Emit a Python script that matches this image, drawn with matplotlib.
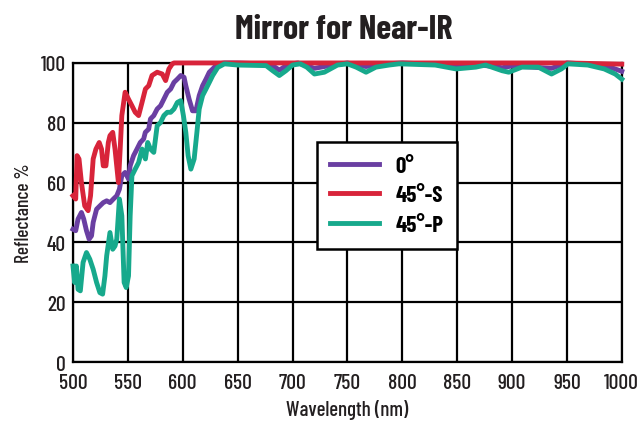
import matplotlib.pyplot as plt

# wavelength (nm) / reflectance (%)
wl_0 = [500, 502.5, 504.6, 507.7, 509.8, 512.3, 514.7, 516.9, 518.4, 521.5, 524.5, 527.6,
        530.7, 533.7, 536.8, 539.9, 542.3, 544.5, 547.5, 550.6, 552.1, 555.2, 558.3, 561.3,
        564.4, 565.9, 569, 570.6, 573.6, 576.7, 579.8, 582.8, 585.9, 589, 592, 595.1, 598.2,
        601.2, 602.8, 605.8, 608.9, 612, 615, 618.1, 621.2, 624.2, 627.3, 631.9, 638,
        650, 680, 688, 696, 705, 720, 735, 750, 767, 780, 800, 850, 870, 891, 900, 936,
        950, 970, 990, 1000]
r_0 = [44.4, 43.9, 47.8, 50, 47.8, 43.9, 41.1, 42.2, 46.7, 51.1, 52.2, 53.3,
       53.9, 53.3, 54.5, 55.6, 57.8, 62.3, 63.4, 61.2, 65.6, 69, 71.2, 73.4,
       74.6, 76.8, 77.9, 81.3, 82.4, 84.6, 85.7, 87.9, 90.2, 91.3, 93.5, 94.6, 95.8,
       95.2, 92.4, 87.9, 84, 84, 89.1, 92.4, 94.6, 96.9, 98, 99.7, 100,
       100, 99.6, 97.6, 99.5, 100, 98.2, 99.2, 100, 98.8, 99.6, 100, 99.2, 99.4, 98.4, 99, 98.2,
       100, 99.6, 98.5, 97.2]

wl_45s = [500, 502.5, 503.7, 505.5, 507.7, 510.7, 513.8, 516, 518.4, 520.9, 523.9, 526,
          527.6, 530, 532.2, 533.7, 536.2, 538.3, 541.4, 543, 544.5, 547.5, 550.6, 553.7,
          556.7, 559.8, 562.9, 566, 569, 572, 576.7, 581.3, 584.4, 587.4, 590.5, 592,
          650, 700, 750, 800, 850, 900, 950, 1000]
r_45s = [55.6, 54.5, 69, 67.9, 60, 52.2, 50.6, 55.6, 67.9, 71.2, 73.4, 71.2,
         65.6, 65.6, 73.4, 75.7, 76.8, 71.2, 60, 71.2, 82.4, 90.2, 87.9, 85.7,
         83.5, 82.4, 86.8, 91.3, 92.4, 95.8, 96.9, 96.3, 94.1, 98, 99.7, 100,
         100, 100, 100, 100, 100, 100, 100, 99.6]

wl_45p = [500, 501.5, 503.1, 504.6, 506.7, 509.2, 512.3, 515.3, 518.4, 521.5, 524.5, 527,
          529.1, 530.7, 533.7, 536.2, 538.3, 539.9, 542.3, 544.5, 546.6, 548.5, 550.6, 552.1,
          553.7, 556.7, 559.8, 562.9, 566, 568.1, 570.6, 573.6, 576.7, 579.8, 582.8, 585.9,
          589, 592, 595.1, 598.2, 600.6, 602.8, 604.9, 607.4, 610.4, 612.9, 615, 618.1,
          621.2, 624.2, 627.3, 631.9, 638,
          650, 676, 682, 688, 694, 700, 707, 713, 720, 729, 741, 750, 758, 767, 776, 788,
          797, 830, 849, 867, 876, 891, 897, 909, 924, 936, 945, 951, 969, 984, 994, 1000]
r_45p = [32.1, 26.6, 32.1, 24.3, 23.8, 33.3, 36.6, 34.4, 31, 26.6, 23.2, 22.7,
         28.8, 35.5, 43.3, 37.7, 38.8, 41.1, 54.5, 48.9, 26.6, 24.9, 28.8, 48.9,
         62.3, 64.5, 66.7, 71.2, 67.9, 73.4, 71.2, 70.1, 79, 80.1, 82.4, 83.5,
         83.5, 84.6, 86.8, 87.4, 82.4, 76.8, 69, 64.5, 67.9, 76.8, 84.6, 89.1,
         91.3, 93.5, 95.8, 98.5, 99.7,
         99.3, 99.1, 97.4, 95.8, 97.4, 99.3, 99.7, 98.6, 96.3, 96.9, 99.3, 99.7, 98.6, 96.9, 98.6, 99.3,
         99.7, 99.3, 98, 98.6, 99.3, 97.4, 96.9, 98.6, 98.6, 96.3, 98, 99.7, 99.3, 98, 96.3, 94.6]

x_ticks = [500, 550, 600, 650, 700, 750, 800, 850, 900, 950, 1000]
y_ticks = [0, 20, 40, 60, 80, 100]

purple = "#6a3fa2"
red = "#d8243a"
teal = "#17a98c"
ink = "#231f20"

cond = ["Barlow Condensed", "DejaVu Sans"]

fig = plt.figure(figsize=(6.43, 4.35), dpi=100)
ax = fig.add_axes([0.1135, 0.1655, 0.8535, 0.6875])

lw = 3.5
ax.plot(wl_0, r_0, color=purple, lw=lw, label="0°", clip_on=False, zorder=3)
ax.plot(wl_45s, r_45s, color=red, lw=lw, label="45°-S", clip_on=False, zorder=4)
ax.plot(wl_45p, r_45p, color=teal, lw=lw, label="45°-P", clip_on=False, zorder=5)

ax.set_xlim(500, 1000)
ax.set_ylim(0, 100)
ax.set_xticks(x_ticks)
ax.set_yticks(y_ticks)
ax.grid(True, color="black", lw=1.6)
ax.set_axisbelow(True)
for s in ax.spines.values():
    s.set_linewidth(1.6)
ax.tick_params(length=0, labelsize=15.5)
ax.tick_params(axis="x", pad=8)
ax.tick_params(axis="y", pad=5)
for t in ax.get_xticklabels() + ax.get_yticklabels():
    t.set_fontfamily(cond)
    t.set_fontweight(500)
    t.set_color(ink)

ax.set_xlabel("Wavelength (nm)", fontsize=15, family=cond, fontweight=500, color=ink, labelpad=5)
ax.set_ylabel("Reflectance %", fontsize=14, family=cond, fontweight=500, color=ink, labelpad=6)
fig.suptitle("Mirror for Near-IR", x=0.535, y=0.965, fontsize=24.5, fontweight="bold",
             family=cond, color=ink)

leg = ax.legend(loc="upper left", bbox_to_anchor=(0.444, 0.736),
                borderaxespad=0, fancybox=False, framealpha=1,
                edgecolor="black", handlelength=2.1, labelspacing=0.42,
                borderpad=0.6, handletextpad=0.75,
                prop={"family": cond, "weight": "bold", "size": 16.5})
leg.get_frame().set_linewidth(1.8)
leg.set_zorder(10)

fig.savefig("out.png", dpi=100)
